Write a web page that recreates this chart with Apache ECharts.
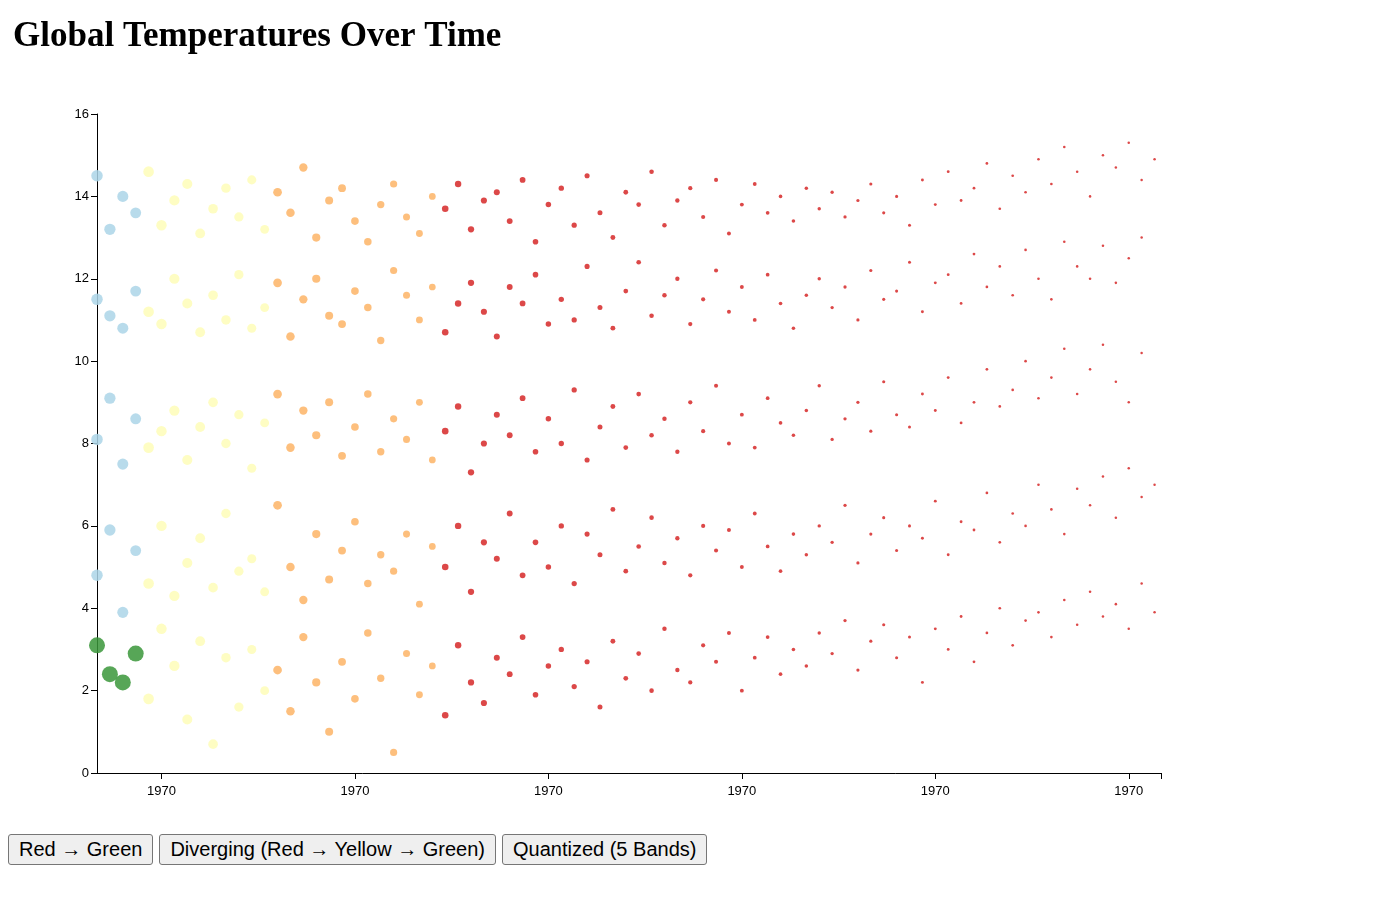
<!DOCTYPE html>
<html>
<head>
<meta charset="utf-8">
<script src="https://cdn.jsdelivr.net/npm/echarts@6/dist/echarts.min.js"></script>
<style>
  body { margin: 0; background: #fff; }
  #main_chart { position: absolute; left: 0; top: 0; width: 1378px; height: 820px; }
  #buttons { position: absolute; left: 8px; top: 834px; }
  button { font: 20px Arial, sans-serif; padding: 3px 10px; margin-right: 2px; background: #efefef; border: 1px solid #767676; border-radius: 3px; }
</style>
</head>
<body>
<div id="main_chart"></div>
<div id="buttons">
  <button>Red → Green</button>
  <button>Diverging (Red → Yellow → Green)</button>
  <button>Quantized (5 Bands)</button>
</div>
<script>
// temps per band, one value every 2 x-units
var bandA = [14.5,13.2,14.0,13.6,14.6,13.3,13.9,14.3,13.1,13.7,14.2,13.5,14.4,
  13.2,14.1,13.6,14.7,13.0,13.9,14.2,13.4,12.9,13.8,14.3,13.5,13.1,14.0,13.7,14.3,13.2,13.9,
  14.1,13.4,14.4,12.9,13.8,14.2,13.3,14.5,13.6,13.0,14.1,13.8,14.6,13.3,13.9,14.2,13.5,14.4,13.1,13.8,14.3,13.6,14.0,13.4,14.2,
  13.7,14.1,13.5,13.9,14.3,13.6,14.0,13.3,14.4,13.8,14.6,13.9,14.2,14.8,13.7,14.5,14.1,14.9,14.3,15.2,14.6,14.0,15.0,14.7,15.3,14.4,14.9];
var bandB = [11.5,11.1,10.8,11.7,11.2,10.9,12.0,11.4,10.7,11.6,11.0,12.1,10.8,
  11.3,11.9,10.6,11.5,12.0,11.1,10.9,11.7,11.3,10.5,12.2,11.6,11.0,11.8,10.7,11.4,11.9,
  11.2,10.6,11.8,11.4,12.1,10.9,11.5,11.0,12.3,11.3,10.8,11.7,12.4,11.1,11.6,12.0,10.9,11.5,12.2,11.2,11.8,11.0,12.1,11.4,10.8,
  11.6,12.0,11.3,11.8,11.0,12.2,11.5,11.7,12.4,11.2,11.9,12.1,11.4,12.6,11.8,12.3,11.6,12.7,12.0,11.5,12.9,12.3,12.0,12.8,11.9,12.5,13.0];
var bandC = [8.1,9.1,7.5,8.6,7.9,8.3,8.8,7.6,8.4,9.0,8.0,8.7,7.4,
  8.5,9.2,7.9,8.8,8.2,9.0,7.7,8.4,9.2,7.8,8.6,8.1,9.0,7.6,8.3,8.9,7.3,8.0,8.7,
  8.2,9.1,7.8,8.6,8.0,9.3,7.6,8.4,8.9,7.9,9.2,8.2,8.6,7.8,9.0,8.3,9.4,8.0,8.7,7.9,9.1,8.5,8.2,
  8.8,9.4,8.1,8.6,9.0,8.3,9.5,8.7,8.4,9.2,8.8,9.6,8.5,9.0,9.8,8.9,9.3,10.0,9.1,9.6,10.3,9.2,9.8,10.4,9.5,9.0,10.2];
var bandD = [4.8,5.9,3.9,5.4,4.6,6.0,4.3,5.1,5.7,4.5,6.3,4.9,5.2,
  4.4,6.5,5.0,4.2,5.8,4.7,5.4,6.1,4.6,5.3,4.9,5.8,4.1,5.5,5.0,6.0,4.4,5.6,
  5.2,6.3,4.8,5.6,5.0,6.0,4.6,5.8,5.3,6.4,4.9,5.5,6.2,5.1,5.7,4.8,6.0,5.4,5.9,5.0,6.3,5.5,4.9,5.8,
  5.3,6.0,5.6,6.5,5.1,5.8,6.2,5.4,6.0,5.7,6.6,5.3,6.1,5.9,6.8,5.6,6.3,6.0,7.0,6.4,5.8,6.9,6.5,7.2,6.2,7.4,6.7,7.0];
var bandE = [3.1,2.4,2.2,2.9,1.8,3.5,2.6,1.3,3.2,0.7,2.8,1.6,3.0,
  2.0,2.5,1.5,3.3,2.2,1.0,2.7,1.8,3.4,2.3,0.5,2.9,1.9,2.6,1.4,3.1,2.2,
  1.7,2.8,2.4,3.3,1.9,2.6,3.0,2.1,2.7,1.6,3.2,2.3,2.9,2.0,3.5,2.5,2.2,3.1,2.7,3.4,2.0,2.8,3.3,2.4,3.0,
  2.6,3.4,2.9,3.7,2.5,3.2,3.6,2.8,3.3,2.2,3.5,3.0,3.8,2.7,3.4,4.0,3.1,3.7,3.9,3.3,4.2,3.6,4.4,3.8,4.1,3.5,4.6,3.9];
var bands = [bandA, bandB, bandC, bandD, bandE];
var greenCount = 4; // first points of the lowest band are the green ones
var xStep = 2;
var tickLabel = '1970';
var labelCats = [];
for (var c = 0; c < 34; c++) labelCats.push(tickLabel);

var points = [];
var greenPoints = [];
bands.forEach(function (b, bi) {
  b.forEach(function (v, i) {
    if (bi === 4 && i < greenCount) greenPoints.push([i * xStep, v]);
    else points.push([i * xStep, v]);
  });
});

var chart = echarts.init(document.getElementById('main_chart'));
chart.setOption({
  animation: false,
  title: {
    text: 'Global Temperatures Over Time', left: 8, top: 14,
    textStyle: { fontFamily: 'Liberation Serif', fontSize: 35, fontWeight: 'bold', color: '#000' }
  },
  grid: { left: 97, right: 217, top: 114, height: 659 },
  visualMap: {
    show: false, type: 'piecewise', dimension: 0, seriesIndex: 0,
    pieces: [
      { min: 0, max: 7, color: '#abd5e8' },
      { min: 7, max: 26, color: '#fefdb8' },
      { min: 26, max: 52, color: '#fdb466' },
      { min: 52, max: 1000, color: '#d62828' }
    ]
  },
  xAxis: [{
    type: 'value', min: 0, max: 165, show: false
  }, {
    type: 'category', data: labelCats, boundaryGap: false, position: 'bottom',
    axisLine: { lineStyle: { color: '#000' } },
    axisTick: { length: 6, lineStyle: { color: '#000' }, interval: function (i) { return i % 6 === 2 || i === 33; } },
    axisLabel: { color: '#000', fontSize: 13, fontFamily: 'Arial', margin: 12, interval: function (i) { return i % 6 === 2; } }
  }],
  yAxis: {
    type: 'value', min: 0, max: 16, interval: 2,
    splitLine: { show: false },
    axisLine: { show: true, lineStyle: { color: '#000' } },
    axisTick: { show: true, length: 6, lineStyle: { color: '#000' } },
    axisLabel: { color: '#000', fontSize: 13, fontFamily: 'Arial' }
  },
  series: [{
    type: 'scatter', xAxisIndex: 0, data: points,
    symbolSize: function (d) { var t = 1 - d[0] / 165; return 2.5 + 9 * t * t; },
    itemStyle: { opacity: 0.85 }
  }, {
    type: 'scatter', xAxisIndex: 0, data: greenPoints,
    symbolSize: 16,
    itemStyle: { color: '#3a963a', opacity: 0.85 }
  }]
});
</script>
</body>
</html>
